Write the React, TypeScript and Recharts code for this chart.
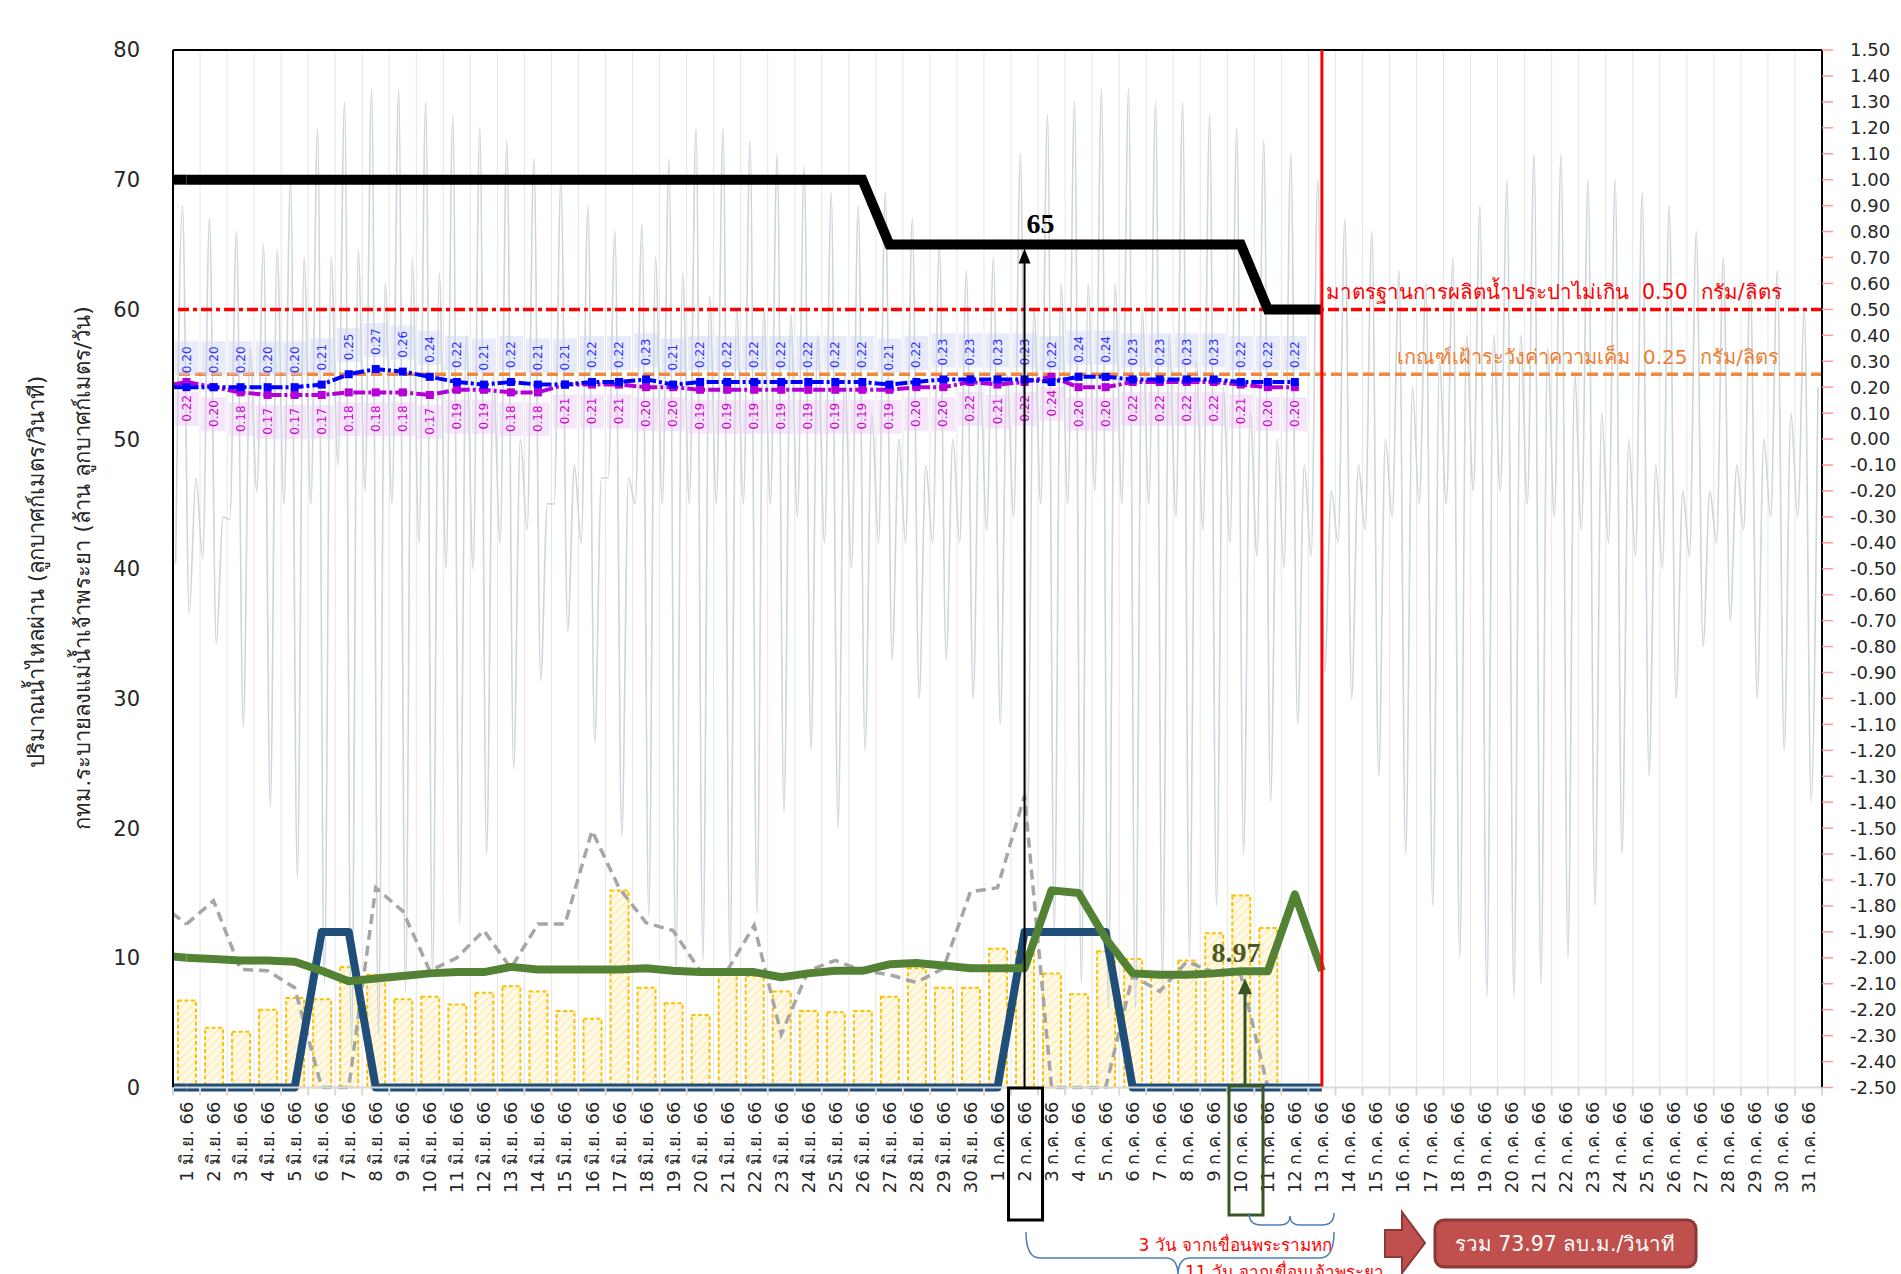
import React from 'react';
import {
  ComposedChart, Bar, Line, XAxis, YAxis, CartesianGrid, ReferenceLine, LabelList,
} from 'recharts';

// ---------- layout ----------
const W = 1901;
const H = 1274;
const PL = 173;
const PR = 1822;
const PT = 50;
const PB = 1087.5;
const NCAT = 61;
const BW = (PR - PL) / NCAT;
const xAt = (i: number) => PL + BW * (i + 0.5);
const yL = (v: number) => PB - (v / 80) * (PB - PT);

// ---------- data ----------
const JUNE_DAYS = Array.from({ length: 30 }, (_, i) => `${i + 1} มิ.ย. 66`);
const JULY_DAYS = Array.from({ length: 31 }, (_, i) => `${i + 1} ก.ค. 66`);
const CATEGORIES = [...JUNE_DAYS, ...JULY_DAYS];

const LEFT_TICKS = [0, 10, 20, 30, 40, 50, 60, 70, 80];
const RIGHT_TICKS = Array.from({ length: 41 }, (_, k) => Math.round((-2.5 + k * 0.1) * 100) / 100);

// target flow (black, m3/s)
const TARGET_FLOW = [
  70, 70, 70, 70, 70, 70, 70, 70, 70, 70, 70, 70, 70, 70, 70, 70, 70, 70, 70, 70, 70, 70, 70, 70, 70, 70,
  65, 65, 65, 65, 65, 65, 65, 65, 65, 65, 65, 65, 65, 65,
  60, 60, 60,
];
// green (m3/s)
const DAM_FLOW = [
  10.0, 9.9, 9.8, 9.8, 9.7, 9.0, 8.2, 8.4, 8.6, 8.8,
  8.9, 8.9, 9.3, 9.1, 9.1, 9.1, 9.1, 9.2, 9.0, 8.9,
  8.9, 8.9, 8.5, 8.8, 9.0, 9.0, 9.5, 9.6, 9.4, 9.2,
  9.2, 9.2, 15.2, 15.0, 11.5, 8.8, 8.7, 8.7, 8.8, 8.97,
  8.97, 14.9, 9.0,
];
// navy (m3/s)
const PUMP_FLOW = [
  0, 0, 0, 0, 0, 12, 12, 0, 0, 0,
  0, 0, 0, 0, 0, 0, 0, 0, 0, 0,
  0, 0, 0, 0, 0, 0, 0, 0, 0, 0,
  0, 12, 12, 12, 12, 0, 0, 0, 0, 0,
  0, 0, 0,
];
// gray dashed (m3/s)
const SIDE_FLOW = [
  12.6, 14.4, 9.1, 9.0, 7.7, 0, 0, 15.4, 13.6, 9.0,
  10.0, 12.1, 9.2, 12.6, 12.6, 19.8, 15.4, 12.7, 12.1, 9.0,
  9.0, 12.5, 4.1, 9.0, 9.8, 9.0, 8.7, 8.1, 9.2, 15.1,
  15.4, 22.5, 0, 0, 0, 8.6, 7.4, 9.7, 8.9, 8.7,
  0, 0, 0,
];
// bars: Bangkok drainage (million m3/day)
const BKK_DRAIN = [
  6.7, 4.6, 4.3, 6.0, 6.9, 6.8, 9.3, 8.7, 6.8, 7.0,
  6.4, 7.3, 7.8, 7.4, 5.9, 5.3, 15.2, 7.7, 6.5, 5.6,
  8.7, 8.6, 7.4, 5.9, 5.8, 5.9, 7.0, 9.2, 7.7, 7.7,
  10.7, 10.5, 8.8, 7.2, 10.5, 9.9, 8.6, 9.8, 11.9, 14.8,
  12.3,
];
// salinity (g/l)
const SAL_BLUE = [
  0.20, 0.20, 0.20, 0.20, 0.20, 0.21, 0.25, 0.27, 0.26, 0.24,
  0.22, 0.21, 0.22, 0.21, 0.21, 0.22, 0.22, 0.23, 0.21, 0.22,
  0.22, 0.22, 0.22, 0.22, 0.22, 0.22, 0.21, 0.22, 0.23, 0.23,
  0.23, 0.23, 0.22, 0.24, 0.24, 0.23, 0.23, 0.23, 0.23, 0.22,
  0.22, 0.22,
];
const SAL_PURPLE = [
  0.22, 0.20, 0.18, 0.17, 0.17, 0.17, 0.18, 0.18, 0.18, 0.17,
  0.19, 0.19, 0.18, 0.18, 0.21, 0.21, 0.21, 0.20, 0.20, 0.19,
  0.19, 0.19, 0.19, 0.19, 0.19, 0.19, 0.19, 0.20, 0.20, 0.22,
  0.21, 0.22, 0.24, 0.20, 0.20, 0.22, 0.22, 0.22, 0.22, 0.21,
  0.20, 0.20,
];
// values of the day before the chart starts (31 พ.ค. 66), only the lead-in segment shows
const MAY31 = { target: 70, dam: 10.2, pump: 0, side: 14.2, salBlue: 0.20, salPurple: 0.20 };

// tide level (m), four turning points per day: higher-low, higher-high, lower-low, lower-high
const TIDE_HL = [
  -0.48, -0.46, -0.31, -0.20, -0.25, -0.25, -0.10, -0.20, -0.25, -0.40,
  -0.50, -0.50, -0.40, -0.35, -0.25, -0.40, -0.15, -0.25, -0.25, -0.25,
  -0.25, -0.25, -0.25, -0.30, -0.40, -0.50, -0.40, -0.40, -0.40, -0.40,
  -0.35, -0.30, -0.25, -0.25, -0.20, -0.25, -0.25, -0.30, -0.35, -0.40,
  -0.45, -0.50, -0.45, -0.40, -0.35, -0.30, -0.25, -0.25, -0.20, -0.20,
  -0.25, -0.30, -0.35, -0.40, -0.45, -0.50, -0.45, -0.40, -0.35, -0.30, -0.30,
];
const TIDE_HH = [
  0.90, 0.85, 0.80, 0.75, 1.00, 1.20, 1.30, 1.35, 1.35, 1.30,
  1.25, 1.20, 1.15, 1.08, 1.00, 0.90, 0.80, 0.83, 1.08, 1.20,
  1.20, 1.15, 1.10, 1.05, 0.95, 0.90, 0.95, 0.85, 0.75, 0.65,
  0.70, 1.10, 1.25, 1.30, 1.35, 1.35, 1.30, 1.30, 1.25, 1.20,
  1.15, 1.10, 1.00, 0.85, 0.80, 0.65, 0.60, 0.70, 0.90, 1.00,
  1.10, 1.10, 1.00, 1.00, 0.95, 0.90, 0.80, 0.70, 0.60, 0.65, 0.50,
];
const TIDE_LL = [
  -0.67, -0.79, -1.11, -1.42, -1.69, -2.10, -2.35, -2.30, -2.13, -2.07,
  -1.87, -1.60, -1.27, -0.93, -0.74, -1.17, -1.53, -1.84, -2.05, -2.01,
  -2.02, -1.83, -1.44, -1.20, -1.50, -1.20, -0.85, -1.00, -0.85, -1.00,
  -1.10, -1.50, -1.90, -2.10, -2.20, -2.20, -2.10, -2.00, -1.80, -1.60,
  -1.40, -1.10, -0.90, -1.00, -1.30, -1.60, -1.80, -2.00, -2.15, -2.15,
  -2.10, -2.00, -1.80, -1.60, -1.30, -1.00, -0.80, -0.70, -1.00, -1.20, -1.40,
];
const TIDE_LH = [
  -0.15, -0.30, 0.35, 0.73, 0.70, 0.70, 0.73, 0.60, 0.70, 0.64,
  0.40, 0.25, 0.00, -0.25, -0.10, -0.15, -0.15, 0.70, 0.64, 0.55,
  0.50, 0.50, 0.48, 0.40, 0.25, 0.10, 0.00, -0.10, 0.00, 0.25,
  0.25, 0.50, 0.60, 0.60, 0.60, 0.50, 0.40, 0.30, 0.20, 0.10,
  0.00, -0.10, -0.20, -0.10, 0.00, 0.20, 0.30, 0.40, 0.40, 0.40,
  0.35, 0.25, 0.10, 0.00, -0.10, -0.20, -0.20, -0.10, 0.00, 0.10, 0.20,
];
const TIDE_PHASE = [0.1, 0.35, 0.6, 0.85];

const rows = CATEGORIES.map((cat, i) => ({
  cat,
  target: TARGET_FLOW[i] ?? null,
  dam: DAM_FLOW[i] ?? null,
  pump: PUMP_FLOW[i] ?? null,
  side: SIDE_FLOW[i] ?? null,
  drain: BKK_DRAIN[i] ?? null,
  salBlue: SAL_BLUE[i] ?? null,
  salPurple: SAL_PURPLE[i] ?? null,
}));

const tideRows: { t: number; v: number }[] = [];
TIDE_HH.forEach((_, d) => {
  [TIDE_HL[d], TIDE_HH[d], TIDE_LL[d], TIDE_LH[d]].forEach((v, k) => {
    tideRows.push({ t: d + TIDE_PHASE[k], v });
  });
});

// lead-in segments from 31 พ.ค. (t = -0.5) to 1 มิ.ย. (t = 0.5), clipped at the plot edge
const leadIn = (prev: number, first: number) => [{ t: -0.5, v: prev }, { t: 0.5, v: first }];

const BOUNDARIES = Array.from({ length: NCAT - 1 }, (_, k) => PL + BW * (k + 1));

const NUM_FONT = "'DejaVu Sans', Verdana, sans-serif";
const THAI_FONT = "Tahoma, 'DejaVu Sans', 'Noto Sans', sans-serif";
const SERIF = "'Liberation Serif', 'Times New Roman', serif";

// ---------- custom renderers ----------
const XTick = (props: any) => {
  const { x, y, payload, index } = props;
  const i = typeof index === 'number' ? index : payload.index;
  return (
    <g>
      <line x1={x - BW / 2} x2={x - BW / 2} y1={y} y2={y + 8} stroke="#d9d9d9" strokeWidth={2} />
      {i === NCAT - 1 && (
        <line x1={x + BW / 2} x2={x + BW / 2} y1={y} y2={y + 8} stroke="#d9d9d9" strokeWidth={2} />
      )}
      <text
        transform={`translate(${x},${y + 14}) rotate(-90)`}
        textAnchor="end"
        dominantBaseline="central"
        fontSize={18}
        fontFamily={THAI_FONT}
        fill="#262626"
      >
        {payload.value}
      </text>
    </g>
  );
};

const makeSalLabel = (up: boolean, color: string, bg: string) => (props: any) => {
  const { x, y, value } = props;
  if (value === null || value === undefined || x == null || y == null) return null;
  const txt = Number(value).toFixed(2);
  if (up) {
    return (
      <g>
        <rect x={x - 12} y={y - 46} width={24} height={34} fill={bg} />
        <text transform={`translate(${x},${y - 14}) rotate(-90)`} textAnchor="start" dominantBaseline="central"
          fontSize={12} fontFamily={NUM_FONT} fill={color}>{txt}</text>
      </g>
    );
  }
  return (
    <g>
      <rect x={x - 12} y={y + 10} width={24} height={34} fill={bg} />
      <text transform={`translate(${x},${y + 13}) rotate(-90)`} textAnchor="end" dominantBaseline="central"
        fontSize={12} fontFamily={NUM_FONT} fill={color}>{txt}</text>
    </g>
  );
};

const squareDot = (color: string, prefix: string) => (p: any) => {
  if (p.cx == null || p.cy == null || p.value == null) return <g key={`${prefix}${p.index}`} />;
  return <rect key={`${prefix}${p.index}`} x={p.cx - 4} y={p.cy - 4} width={8} height={8} fill={color} />;
};

// Overlay drawn above the chart (annotations, titles, call-outs)
const Annotations = () => {
  const xa = xAt(31);
  const y65 = yL(65);
  const yg = yL(8.97);
  return (
    <svg width={W} height={H} style={{ position: 'absolute', left: 0, top: 0, pointerEvents: 'none' }}>
      {/* axis titles */}
      <text transform="translate(36,572) rotate(-90)" textAnchor="middle" dominantBaseline="central"
        fontSize={22} fontFamily={THAI_FONT} fill="#262626">ปริมาณน้ำไหลผ่าน (ลูกบาศก์เมตร/วินาที)</text>
      <text transform="translate(82,568) rotate(-90)" textAnchor="middle" dominantBaseline="central"
        fontSize={22} fontFamily={THAI_FONT} fill="#262626">กทม.ระบายลงแม่น้ำเจ้าพระยา (ล้าน ลูกบาศก์เมตร/วัน)</text>

      {/* threshold captions */}
      <text x={1326} y={299} fontSize={20.5} fontFamily={THAI_FONT} fill="#ff0000" style={{ whiteSpace: 'pre' }}>
        มาตรฐานการผลิตน้ำประปาไม่เกิน  0.50  กรัม/ลิตร
      </text>
      <text x={1779} y={364} textAnchor="end" fontSize={20} fontFamily={THAI_FONT} fill="#ed7d31" style={{ whiteSpace: 'pre' }}>
        เกณฑ์เฝ้าระวังค่าความเค็ม  0.25  กรัม/ลิตร
      </text>

      {/* 65 arrow */}
      <line x1={xa} x2={xa} y1={1088} y2={y65 + 16} stroke="#000" strokeWidth={2} />
      <polygon points={`${xa},${y65 + 4} ${xa - 6},${y65 + 19} ${xa + 6},${y65 + 19}`} fill="#000" />
      <text x={xa + 16} y={y65 - 12} textAnchor="middle" fontSize={28} fontWeight="bold"
        fontFamily={SERIF} fill="#000">65</text>
      <rect x={xa - 16} y={1088} width={34} height={132} fill="none" stroke="#000" strokeWidth={3} />

      {/* 8.97 arrow */}
      <line x1={1245} x2={1245} y1={1086} y2={yg + 20} stroke="#375623" strokeWidth={3} />
      <polygon points={`1245,${yg + 7} 1238,${yg + 23} 1252,${yg + 23}`} fill="#375623" />
      <text x={1236} y={962} textAnchor="middle" fontSize={28} fontWeight="bold"
        fontFamily={SERIF} fill="#4a5a25">8.97</text>
      <rect x={1229} y={1086} width={34} height={129} fill="none" stroke="#375623" strokeWidth={3} />

      {/* braces */}
      <path d="M1249,1213 Q1249,1225 1261,1225 L1280,1225 Q1290,1225 1290,1216 Q1290,1225 1300,1225 L1322,1225 Q1334,1225 1334,1213"
        fill="none" stroke="#4a7ebb" strokeWidth={1.5} />
      <path d="M1026,1232 Q1026,1258 1040,1258 L1166,1258 Q1178,1258 1178,1276 Q1178,1258 1190,1258 L1320,1258 Q1334,1258 1334,1232"
        fill="none" stroke="#4a7ebb" strokeWidth={1.5} />
      <text x={1332} y={1251} textAnchor="end" fontSize={17} fontFamily={THAI_FONT} fill="#ff0000">3 วัน จากเขื่อนพระรามหก</text>
      <text x={1185} y={1278} fontSize={17} fontFamily={THAI_FONT} fill="#ff0000">11 วัน จากเขื่อนเจ้าพระยา</text>

      {/* block arrow + total box */}
      <polygon points="1385,1230 1402,1230 1402,1212 1425,1243 1402,1273 1402,1257 1385,1257"
        fill="#c0504d" stroke="#8c3836" strokeWidth={2} />
      <rect x={1435} y={1220} width={261} height={47} rx={9} fill="#c0504d" stroke="#8c3836" strokeWidth={3} />
      <text x={1565} y={1251} textAnchor="middle" fontSize={20.5} fontFamily={THAI_FONT} fill="#ffffff">รวม 73.97 ลบ.ม./วินาที</text>
    </svg>
  );
};

export default function App() {
  return (
    <div style={{ position: 'absolute', left: 0, top: 0, width: W, height: H, background: '#fff', overflow: 'hidden' }}>
      <ComposedChart width={W} height={H} data={rows} margin={{ top: PT, right: 0, left: 0, bottom: 0 }}>
        <defs>
          <pattern id="hatch" patternUnits="userSpaceOnUse" width="6" height="6" patternTransform="rotate(45)">
            <rect width="6" height="6" fill="#fff9e6" />
            <line x1="0" y1="0" x2="0" y2="6" stroke="#fde9b0" strokeWidth="2.5" />
          </pattern>
        </defs>
        <CartesianGrid xAxisId="cat" yAxisId="L" horizontal={false} verticalPoints={BOUNDARIES} stroke="#e6e6e6" strokeWidth={1} />
        <XAxis xAxisId="cat" dataKey="cat" interval={0} height={H - PB} tickLine={false} tickSize={0} tickMargin={0}
          axisLine={{ stroke: '#d9d9d9', strokeWidth: 2 }} tick={<XTick />} />
        <XAxis xAxisId="t" type="number" dataKey="t" domain={[0, NCAT]} hide allowDataOverflow />
        <YAxis yAxisId="L" width={PL} domain={[0, 80]} ticks={LEFT_TICKS} interval={0} tickLine={false} tickSize={0}
          tickMargin={33} axisLine={{ stroke: '#000', strokeWidth: 2 }}
          tick={{ fontSize: 21, fill: '#262626', fontFamily: NUM_FONT }} />
        <YAxis yAxisId="R" orientation="right" width={W - PR} domain={[-2.5, 1.5]} ticks={RIGHT_TICKS} interval={0}
          tickSize={11} tickMargin={17} tickLine={{ stroke: '#ff9a9a', strokeWidth: 1.5 }}
          axisLine={{ stroke: '#000', strokeWidth: 2 }} tickFormatter={(v: number) => v.toFixed(2)}
          tick={{ fontSize: 18, fill: '#262626', fontFamily: NUM_FONT }} />

        <Bar xAxisId="cat" yAxisId="L" dataKey="drain" barSize={18} fill="url(#hatch)" stroke="#ffc000"
          strokeWidth={2} strokeDasharray="4 2.5" isAnimationActive={false} />

        <Line xAxisId="t" yAxisId="R" data={tideRows} dataKey="v" type="monotone" dot={false} stroke="#cdd6db"
          strokeWidth={1.6} isAnimationActive={false} />

        <ReferenceLine xAxisId="cat" yAxisId="L" y={80} stroke="#000" strokeWidth={2} />
        <ReferenceLine xAxisId="cat" yAxisId="R" y={0.5} stroke="#ff0000" strokeWidth={3.5} strokeDasharray="11 4 4 4" />
        <ReferenceLine xAxisId="cat" yAxisId="R" y={0.25} stroke="#f0883e" strokeWidth={3.5} strokeDasharray="11 5" />

        {/* lead-in segments at the left edge */}
        <Line xAxisId="t" yAxisId="L" data={leadIn(MAY31.side, SIDE_FLOW[0])} dataKey="v" dot={false}
          stroke="#a6a6a6" strokeWidth={3.5} strokeDasharray="10 6" isAnimationActive={false} />
        <Line xAxisId="t" yAxisId="L" data={leadIn(MAY31.pump, PUMP_FLOW[0])} dataKey="v" dot={false}
          stroke="#1f4e79" strokeWidth={8} isAnimationActive={false} />
        <Line xAxisId="t" yAxisId="L" data={leadIn(MAY31.dam, DAM_FLOW[0])} dataKey="v" dot={false}
          stroke="#548235" strokeWidth={8} isAnimationActive={false} />
        <Line xAxisId="t" yAxisId="L" data={leadIn(MAY31.target, TARGET_FLOW[0])} dataKey="v" dot={false}
          stroke="#000000" strokeWidth={10} isAnimationActive={false} />
        <Line xAxisId="t" yAxisId="R" data={leadIn(MAY31.salPurple, SAL_PURPLE[0])} dataKey="v" dot={false}
          stroke="#b400d8" strokeWidth={4} isAnimationActive={false} />
        <Line xAxisId="t" yAxisId="R" data={leadIn(MAY31.salBlue, SAL_BLUE[0])} dataKey="v" dot={false}
          stroke="#0000ff" strokeWidth={4} isAnimationActive={false} />

        <Line xAxisId="cat" yAxisId="L" dataKey="side" type="linear" dot={false} stroke="#a6a6a6" strokeWidth={3.5}
          strokeDasharray="10 6" isAnimationActive={false} />
        <Line xAxisId="cat" yAxisId="L" dataKey="pump" type="linear" dot={false} stroke="#1f4e79" strokeWidth={8}
          strokeLinejoin="round" isAnimationActive={false} />
        <Line xAxisId="cat" yAxisId="L" dataKey="dam" type="linear" dot={false} stroke="#548235" strokeWidth={8}
          strokeLinejoin="round" isAnimationActive={false} />
        <Line xAxisId="cat" yAxisId="L" dataKey="target" type="linear" dot={false} stroke="#000000" strokeWidth={10}
          isAnimationActive={false} />

        <Line xAxisId="cat" yAxisId="R" dataKey="salPurple" type="linear" stroke="#b400d8" strokeWidth={4}
          strokeDasharray="12 3 3 3" dot={squareDot('#b400d8', 'p')} activeDot={false} isAnimationActive={false}>
          <LabelList dataKey="salPurple" content={makeSalLabel(false, '#cc00cc', 'rgba(236,200,245,0.45)')} />
        </Line>
        <Line xAxisId="cat" yAxisId="R" dataKey="salBlue" type="linear" stroke="#0000ff" strokeWidth={4}
          strokeDasharray="12 3 3 3" dot={squareDot('#0000ff', 'b')} activeDot={false} isAnimationActive={false}>
          <LabelList dataKey="salBlue" content={makeSalLabel(true, '#3030ff', 'rgba(205,210,245,0.45)')} />
        </Line>

        <ReferenceLine xAxisId="cat" yAxisId="L" x="13 ก.ค. 66" stroke="#ff0000" strokeWidth={3} />
      </ComposedChart>
      <Annotations />
    </div>
  );
}
